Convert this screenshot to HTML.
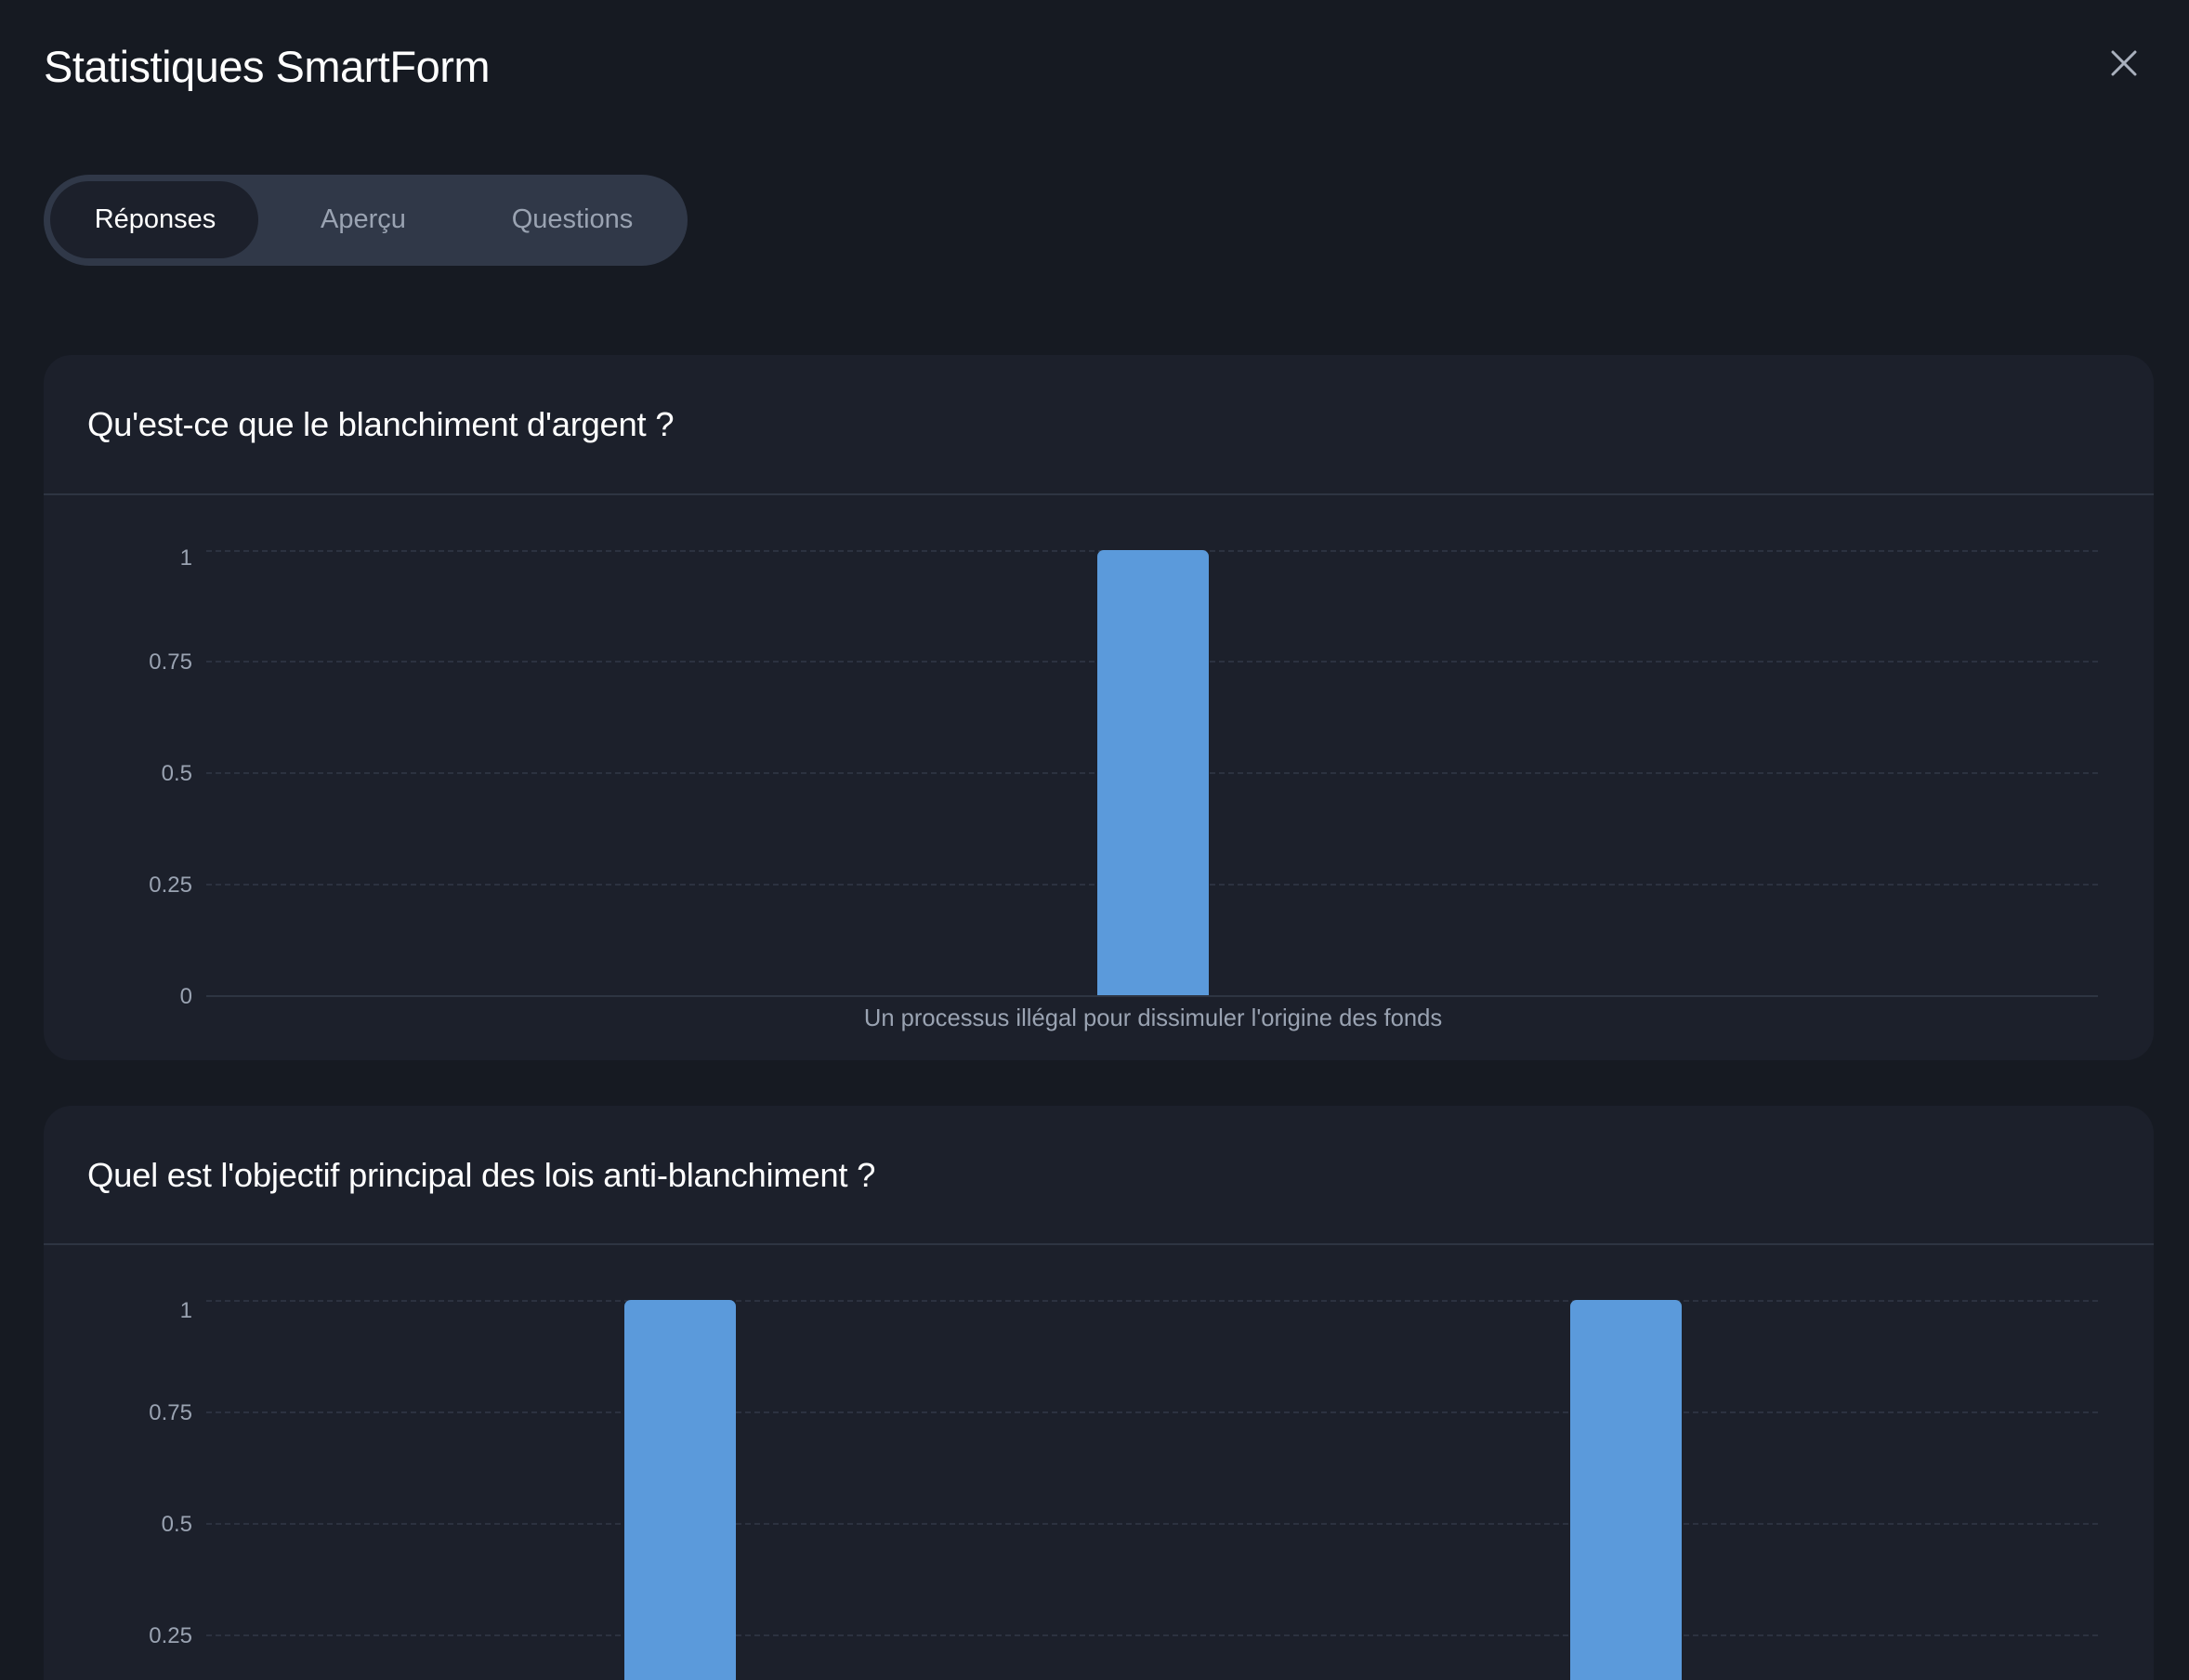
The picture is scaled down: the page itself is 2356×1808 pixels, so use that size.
<!DOCTYPE html>
<html><head><meta charset="utf-8"><style>
*{margin:0;padding:0;box-sizing:border-box}
html{width:2356px;height:1808px;overflow:hidden}
body{width:2356px;height:1808px;overflow:hidden;background:#161a22;font-family:"Liberation Sans",sans-serif;position:relative}
.abs{position:absolute}
.title{left:47px;top:44px;font-size:47px;color:#fff;letter-spacing:-0.5px}
.pill{left:47px;top:188px;width:693px;height:98px;border-radius:49px;background:#303848}
.act{left:54px;top:195px;width:224px;height:83px;border-radius:42px;background:#1c202b}
.tab{top:220px;font-size:29px;color:#9aa3b2;transform:translateX(-50%)}
.card{left:47px;width:2271px;border-radius:30px;background:#1c202b;overflow:hidden}
.h{left:47px;font-size:36.5px;color:#fff;letter-spacing:-0.3px}
.div{left:0;width:2271px;height:2px;background:#2e3542}
.grid{left:175px;width:2036px;height:0;border-top:2px dashed #2c3240}
.yl{width:120px;text-align:right;left:40px;font-size:24px;color:#9aa3b2}
.bar{width:120px;background:#5b9adb;border-radius:7px 7px 0 0}
</style></head><body>
<div class="abs title">Statistiques SmartForm</div>
<svg class="abs" style="left:2272px;top:54px" width="28" height="28"><path d="M2 2L26 26M26 2L2 26" stroke="#a9b0bd" stroke-width="3" stroke-linecap="round"/></svg>
<div class="abs pill"></div><div class="abs act"></div>
<div class="abs tab" style="left:167px;color:#fff">Réponses</div>
<div class="abs tab" style="left:391px">Aperçu</div>
<div class="abs tab" style="left:616px">Questions</div>

<div class="abs card" style="top:382px;height:759px">
 <div class="abs h" style="top:54px">Qu'est-ce que le blanchiment d'argent ?</div>
 <div class="abs div" style="top:149px"></div>
 <div class="abs grid" style="top:210px"></div>
 <div class="abs grid" style="top:329px"></div>
 <div class="abs grid" style="top:449px"></div>
 <div class="abs grid" style="top:569px"></div>
 <div class="abs grid" style="top:689px;border-top:2px solid #2e3542"></div>
 <div class="abs yl" style="top:205px">1</div>
 <div class="abs yl" style="top:317px">0.75</div>
 <div class="abs yl" style="top:437px">0.5</div>
 <div class="abs yl" style="top:557px">0.25</div>
 <div class="abs yl" style="top:677px">0</div>
 <div class="abs bar" style="left:1134px;top:210px;height:479px"></div>
 <div class="abs" style="left:1194px;top:700px;transform:translateX(-50%);font-size:25.6px;color:#9aa3b2;white-space:nowrap">Un processus illégal pour dissimuler l'origine des fonds</div>
</div>

<div class="abs card" style="top:1190px;height:618px;border-radius:30px 30px 0 0">
 <div class="abs h" style="top:54px">Quel est l'objectif principal des lois anti-blanchiment ?</div>
 <div class="abs div" style="top:148px"></div>
 <div class="abs grid" style="top:209px"></div>
 <div class="abs grid" style="top:329px"></div>
 <div class="abs grid" style="top:449px"></div>
 <div class="abs grid" style="top:569px"></div>
 <div class="abs yl" style="top:207px">1</div>
 <div class="abs yl" style="top:317px">0.75</div>
 <div class="abs yl" style="top:437px">0.5</div>
 <div class="abs yl" style="top:557px">0.25</div>
 <div class="abs bar" style="left:625px;top:209px;height:409px"></div>
 <div class="abs bar" style="left:1643px;top:209px;height:409px"></div>
</div>
</body></html>
